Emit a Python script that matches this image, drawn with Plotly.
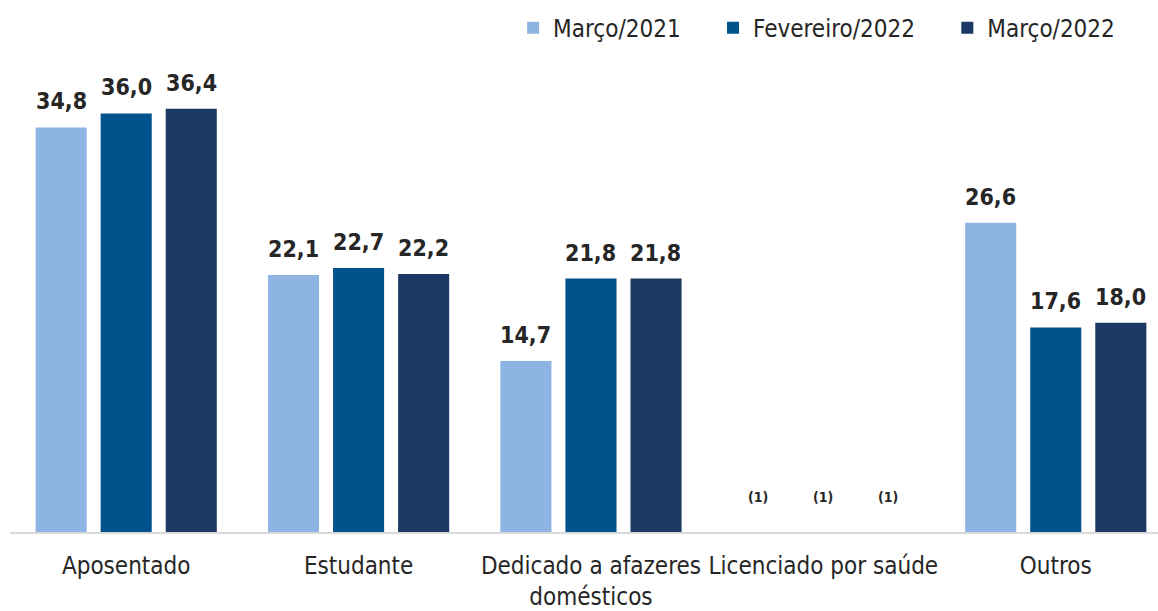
import plotly.graph_objects as go

categories = ["Aposentado", "Estudante", "Dedicado a afazeres<br>domésticos",
              "Licenciado por saúde", "Outros"]
series_names = ["Março/2021", "Fevereiro/2022", "Março/2022"]
marco_2021 = [34.8, 22.1, 14.7, None, 26.6]
fevereiro_2022 = [36.0, 22.7, 21.8, None, 17.6]
marco_2022 = [36.4, 22.2, 21.8, None, 18.0]
hidden_label = "(1)"

colors = ["#8EB4E3", "#00528C", "#1B3964"]
FONT = "DejaVu Sans Condensed, Roboto, sans-serif"
TEXT = "#262626"
PAD = "\u00a0" * 4  # extra room between legend entries


def fmt(v):
    return f"{v:.1f}".replace(".", ",")


fig = go.Figure()
all_series = [marco_2021, fevereiro_2022, marco_2022]
for i, (name, vals, col) in enumerate(zip(series_names, all_series, colors)):
    fig.add_trace(go.Bar(
        x=categories,
        y=vals,
        name=name + (PAD if i < len(series_names) - 1 else ""),
        marker=dict(color=col, line=dict(width=0)),
        hoverinfo="skip",
    ))

# value labels (suppressed values get the "(1)" note)
shifts = [-65, 0, 65]
for vals, shift in zip(all_series, shifts):
    for cat, v in zip(categories, vals):
        if v is None:
            fig.add_annotation(
                x=cat, y=0, text=hidden_label, showarrow=False,
                xshift=shift, yshift=25, yanchor="bottom",
                font=dict(family=FONT, size=14, color=TEXT, weight="bold"),
            )
        else:
            fig.add_annotation(
                x=cat, y=v, text=fmt(v), showarrow=False,
                xshift=shift, yshift=11, yanchor="bottom",
                font=dict(family=FONT, size=23, color=TEXT, weight="bold"),
            )

fig.update_layout(
    width=1158,
    height=611,
    margin=dict(l=10, r=0, t=0, b=79),
    paper_bgcolor="white",
    plot_bgcolor="white",
    barmode="group",
    bargap=0.16,
    bargroupgap=0.215,
    font=dict(family=FONT, color=TEXT),
    legend=dict(
        orientation="h",
        x=0.967, xanchor="right",
        y=0.947, yanchor="middle",
        font=dict(family=FONT, size=24, color=TEXT),
        itemwidth=30,
        traceorder="normal",
    ),
    xaxis=dict(
        range=[-0.5, 4.44],
        showline=True,
        linecolor="#D9D9D9",
        linewidth=2,
        ticks="outside",
        ticklen=11,
        tickcolor="rgba(0,0,0,0)",
        tickfont=dict(family=FONT, size=24, color=TEXT),
        showgrid=False,
        automargin=False,
    ),
    yaxis=dict(
        domain=[0, 472 / 532],
        range=[0, 40.6],
        visible=False,
        showgrid=False,
        zeroline=False,
        automargin=False,
    ),
)

fig.write_html("out.html", config={"displayModeBar": False},
               post_script="document.body.style.margin='0';")
